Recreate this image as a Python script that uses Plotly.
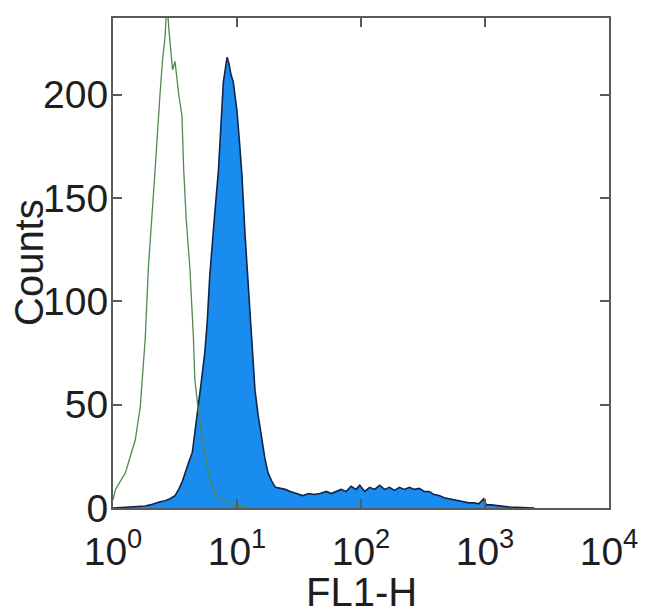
import plotly.graph_objects as go

# Stained sample (filled blue): positions in decades (log10 FL1-H) and counts
blue_log = [0.00, 0.10, 0.20, 0.26, 0.30, 0.34, 0.38, 0.42, 0.46, 0.50, 0.53, 0.56,
            0.58, 0.61, 0.64, 0.66, 0.685, 0.71, 0.74, 0.76, 0.78, 0.80, 0.82, 0.85,
            0.86, 0.875, 0.89, 0.905, 0.92, 0.935, 0.95, 0.97, 0.985, 1.00, 1.02, 1.04,
            1.065, 1.09, 1.12, 1.145, 1.17, 1.20, 1.225, 1.25, 1.28, 1.31, 1.35, 1.39,
            1.43, 1.48, 1.53, 1.58, 1.62, 1.67, 1.72, 1.76, 1.80, 1.84, 1.88, 1.92,
            1.96, 1.99, 2.03, 2.07, 2.11, 2.15, 2.19, 2.23, 2.27, 2.31, 2.35, 2.39,
            2.43, 2.47, 2.51, 2.55, 2.59, 2.63, 2.67, 2.71, 2.75, 2.79, 2.83, 2.87,
            2.91, 2.95, 2.99, 3.01, 3.05, 3.10, 3.15, 3.20, 3.30, 3.40]
blue_counts = [0, 0.3, 0.5, 1.0, 1.5, 2.4, 3, 3.5, 4.5, 6, 9, 13,
               17, 22, 27, 36, 49, 60, 75, 90, 112, 128, 142, 163,
               174, 190, 206, 212, 218, 215, 210, 206, 198, 192, 177, 161,
               132, 107, 83, 57, 45, 33, 24, 17, 13, 10, 9.5, 9,
               8, 7, 6, 7, 6.5, 7, 8, 7, 8, 9, 8, 10.5,
               9, 11, 8, 10, 9, 11, 9, 10, 8.5, 10, 9, 10,
               9, 9.5, 8, 8, 6.5, 6, 5, 4.5, 4, 3.5, 3, 2.5,
               2.5, 2, 4.5, 1.5, 1.5, 1, 0.8, 0.5, 0.2, 0]

# Isotype control (green outline)
green_log = [0.00, 0.02, 0.05, 0.10, 0.14, 0.18, 0.22, 0.26, 0.285, 0.325, 0.34, 0.38,
             0.40, 0.42, 0.435, 0.45, 0.465, 0.48, 0.50, 0.51, 0.53, 0.556, 0.57, 0.59,
             0.62, 0.648, 0.66, 0.685, 0.72, 0.77, 0.82, 0.88, 0.93, 0.98, 1.05, 1.10]
green_counts = [4, 9, 12, 17, 25, 33, 49, 82, 116, 148, 164, 201,
                217, 228, 245, 232, 221, 212, 216, 210, 200, 190, 164, 140,
                116, 83, 62, 49, 33, 17, 7, 4, 2.5, 1, 0.5, 0]

x_tickvals = [1, 10, 100, 1000, 10000]
x_ticktext = ["10<sup>0</sup>", "10<sup>1</sup>", "10<sup>2</sup>", "10<sup>3</sup>", "10<sup>4</sup>"]
y_tickvals = [0, 50, 100, 150, 200]
x_title = "FL1-H"
y_title = "Counts"

blue_x = [10 ** v for v in blue_log]
green_x = [10 ** v for v in green_log]

font_family = "Liberation Sans, Arial, sans-serif"
text_color = "#1e1e1e"
axis_color = "#5a5a5a"

fig = go.Figure()
fig.add_trace(go.Scatter(
    x=blue_x, y=blue_counts, mode="lines", fill="tozeroy",
    fillcolor="#1a8cf0", line=dict(color="#10254a", width=1.6),
    showlegend=False))
fig.add_trace(go.Scatter(
    x=green_x, y=green_counts, mode="lines",
    line=dict(color="#4d8a4d", width=1.3),
    showlegend=False))

axis_common = dict(
    showline=True, linecolor=axis_color, linewidth=2, mirror="ticks",
    ticks="inside", ticklen=9, tickwidth=2, tickcolor=axis_color,
    showgrid=False, zeroline=False,
    tickfont=dict(family=font_family, size=39, color=text_color),
)

fig.update_xaxes(
    type="log", range=[0, 4], tickvals=x_tickvals, ticktext=x_ticktext,
    ticklabelstandoff=8, **axis_common)
fig.update_yaxes(
    range=[0, 237], tickvals=y_tickvals,
    ticklabelstandoff=-5, **axis_common)

fig.add_annotation(
    text=x_title, xref="paper", yref="paper", x=0.5, y=0,
    xanchor="center", yanchor="middle", yshift=-84, showarrow=False,
    font=dict(family=font_family, size=40, color=text_color))
fig.add_annotation(
    text=y_title, xref="paper", yref="paper", x=0, y=0.5,
    xanchor="center", yanchor="middle", xshift=-84, textangle=-90,
    showarrow=False,
    font=dict(family=font_family, size=40, color=text_color))

# Body margin of the page offsets the figure by 8px; margins compensate.
fig.update_layout(
    width=650, height=615,
    margin=dict(l=105, r=49, t=10, b=115, autoexpand=False),
    paper_bgcolor="white", plot_bgcolor="white",
    font=dict(family=font_family),
)

fig.write_html("out.html")
